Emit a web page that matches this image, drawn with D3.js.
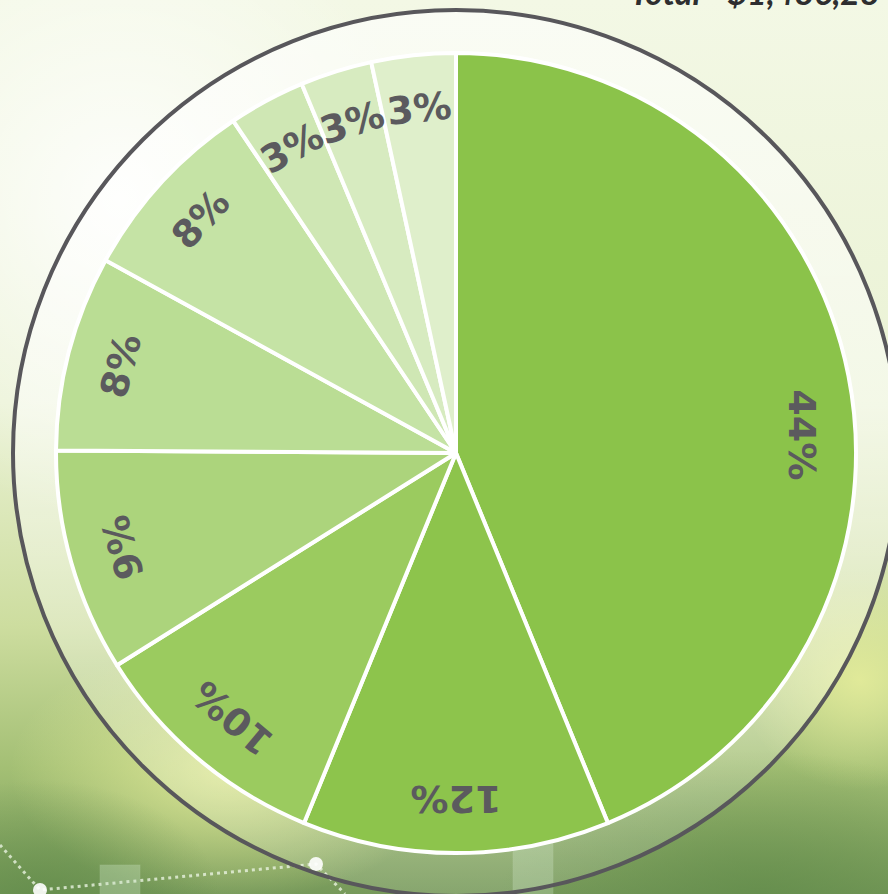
<!DOCTYPE html>
<html>
<head>
<meta charset="utf-8">
<script src="https://cdn.jsdelivr.net/npm/d3@7"></script>
<style>
  html, body { margin: 0; padding: 0; overflow: hidden; }
  svg { display: block; }
</style>
</head>
<body>
<div id="chart"></div>
<script>

// slice shares (clockwise from 12 o'clock)
var categories = ["A", "B", "C", "D", "E", "F", "G", "H", "I"];
var shares = [43.8, 12.4, 9.9, 9.0, 7.9, 7.6, 3.1, 2.9, 3.4];
var labels = ["44%", "12%", "10%", "9%", "8%", "8%", "3%", "3%", "3%"];
var totalText = "Total - $1,486,28";

var width = 888, height = 894;
var cx = 456, cy = 453, radius = 400, ringRadius = 443;

var svg = d3.select("#chart").append("svg")
  .attr("width", width)
  .attr("height", height);

var defs = svg.append("defs");

// background: pale at the top, deeper green toward the bottom
var bg = defs.append("linearGradient").attr("id", "bg")
  .attr("x1", 0).attr("y1", 0).attr("x2", 0).attr("y2", 1);
bg.append("stop").attr("offset", "0%").attr("stop-color", "#f3f8e5");
bg.append("stop").attr("offset", "45%").attr("stop-color", "#eaf2d4");
bg.append("stop").attr("offset", "70%").attr("stop-color", "#cddd9f");
bg.append("stop").attr("offset", "86%").attr("stop-color", "#a3bf74");
bg.append("stop").attr("offset", "100%").attr("stop-color", "#76995a");

var glow = defs.append("radialGradient").attr("id", "glow");
glow.append("stop").attr("offset", "0%").attr("stop-color", "#ffffff").attr("stop-opacity", 0.9);
glow.append("stop").attr("offset", "100%").attr("stop-color", "#ffffff").attr("stop-opacity", 0);

var yglow = defs.append("radialGradient").attr("id", "yglow");
yglow.append("stop").attr("offset", "0%").attr("stop-color", "#e4ec9a").attr("stop-opacity", 0.9);
yglow.append("stop").attr("offset", "100%").attr("stop-color", "#e4ec9a").attr("stop-opacity", 0);

var dark = defs.append("radialGradient").attr("id", "dark");
dark.append("stop").attr("offset", "0%").attr("stop-color", "#5f8a48").attr("stop-opacity", 0.7);
dark.append("stop").attr("offset", "100%").attr("stop-color", "#5f8a48").attr("stop-opacity", 0);

// the band inside the ring is whiter at the top than at the bottom
var ringFill = defs.append("linearGradient").attr("id", "ringFill")
  .attr("x1", 0).attr("y1", 0).attr("x2", 0).attr("y2", 1);
ringFill.append("stop").attr("offset", "0%").attr("stop-color", "#ffffff").attr("stop-opacity", 0.6);
ringFill.append("stop").attr("offset", "60%").attr("stop-color", "#ffffff").attr("stop-opacity", 0.4);
ringFill.append("stop").attr("offset", "100%").attr("stop-color", "#ffffff").attr("stop-opacity", 0.12);

svg.append("rect").attr("width", width).attr("height", height).attr("fill", "url(#bg)");
svg.append("ellipse").attr("cx", 120).attr("cy", 200).attr("rx", 300).attr("ry", 320).attr("fill", "url(#glow)");
svg.append("ellipse").attr("cx", 230).attr("cy", 770).attr("rx", 220).attr("ry", 130).attr("fill", "url(#yglow)");
svg.append("ellipse").attr("cx", 860).attr("cy", 680).attr("rx", 120).attr("ry", 110).attr("fill", "url(#yglow)");
svg.append("ellipse").attr("cx", 760).attr("cy", 900).attr("rx", 260).attr("ry", 150).attr("fill", "url(#dark)");
svg.append("ellipse").attr("cx", 40).attr("cy", 900).attr("rx", 180).attr("ry", 120).attr("fill", "url(#dark)");

// decorative dotted line and glowing dots at the bottom
var dots = [[40, 890], [316, 864]];
svg.append("path")
  .attr("d", "M0,845 L40,890 L316,864 L345,894")
  .attr("fill", "none")
  .attr("stroke", "#e8f3e0")
  .attr("stroke-width", 3)
  .attr("stroke-dasharray", "3,4")
  .attr("opacity", 0.8);
svg.selectAll("circle.dot").data(dots).enter().append("circle")
  .attr("class", "dot")
  .attr("cx", function(d) { return d[0]; })
  .attr("cy", function(d) { return d[1]; })
  .attr("r", 7)
  .attr("fill", "#ffffff")
  .attr("opacity", 0.9);
svg.append("rect").attr("x", 100).attr("y", 865).attr("width", 40).attr("height", 40)
  .attr("fill", "#cfe8c8").attr("opacity", 0.35).attr("stroke", "#e6f3e0").attr("stroke-opacity", 0.5);
svg.append("rect").attr("x", 513).attr("y", 812).attr("width", 40).attr("height", 90)
  .attr("fill", "#cfe8c8").attr("opacity", 0.3).attr("stroke", "#e6f3e0").attr("stroke-opacity", 0.5);

// total line at the top, clipped by the frame as in the original
svg.append("text")
  .attr("x", 630)
  .attr("y", 5)
  .attr("font-family", "Lato, 'Open Sans', sans-serif")
  .attr("font-weight", 700)
  .attr("font-style", "italic")
  .attr("font-size", 34)
  .attr("fill", "#2e2e30")
  .text(totalText);

// outer ring
svg.append("circle")
  .attr("cx", cx).attr("cy", cy).attr("r", ringRadius)
  .attr("fill", "url(#ringFill)")
  .attr("stroke", "#58575b")
  .attr("stroke-width", 4);

var color = d3.scaleOrdinal()
  .domain(categories)
  .range(["#8bc34a", "#8dc44c", "#9bcb5f", "#acd47c", "#badd94",
          "#c5e3a5", "#cfe7b4", "#d7ebc0", "#dfefcb"]);

var data = categories.map(function(c, i) {
  return {cat: c, value: shares[i], label: labels[i]};
});

var pie = d3.pie()
  .sort(null)
  .value(function(d) { return d.value; });

var arc = d3.arc()
  .innerRadius(0)
  .outerRadius(radius);

var g = svg.append("g")
  .attr("transform", "translate(" + cx + "," + cy + ")");

var arcs = pie(data);

g.selectAll("path.slice")
  .data(arcs)
  .enter().append("path")
  .attr("class", "slice")
  .attr("d", arc)
  .attr("fill", function(d) { return color(d.data.cat); })
  .attr("stroke", "#ffffff")
  .attr("stroke-width", 4)
  .attr("stroke-linejoin", "round");

// labels sit near the rim, turned with the slice
var labelRadius = 347;
g.selectAll("text.lbl")
  .data(arcs)
  .enter().append("text")
  .attr("class", "lbl")
  .attr("transform", function(d) {
    var big = d.endAngle - d.startAngle > Math.PI / 2;
    var deg = (d.startAngle + d.endAngle) / 2 * 180 / Math.PI;
    // the big slice has its label pushed down to the horizontal
    if (big) deg = 87;
    var a = deg * Math.PI / 180;
    var x = labelRadius * Math.sin(a), y = -labelRadius * Math.cos(a);
    return "translate(" + x + "," + y + ") rotate(" + (big ? 90 : deg) + ")";
  })
  .attr("text-anchor", "middle")
  .attr("dy", "0.36em")
  .attr("font-family", "'DejaVu Sans', sans-serif")
  .attr("font-weight", 700)
  .attr("font-size", 38)
  .attr("fill", "#5b5a5e")
  .text(function(d) { return d.data.label; });

</script>
</body>
</html>
